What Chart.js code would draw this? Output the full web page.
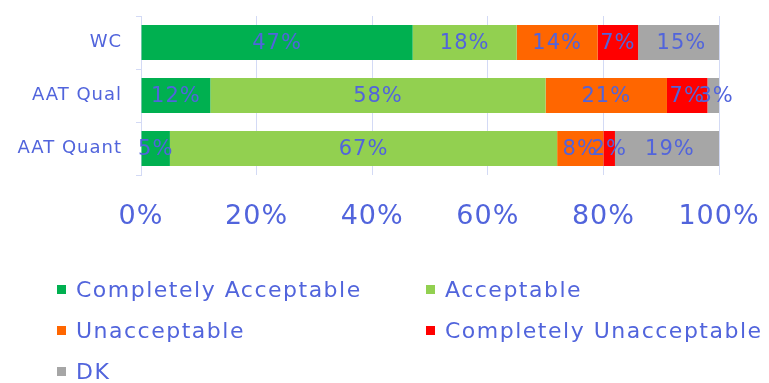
<!DOCTYPE html>
<html>
<head>
<meta charset="utf-8">
<script src="https://cdn.jsdelivr.net/npm/chart.js@4"></script>
<style>
  html, body { margin: 0; padding: 0; background: #fff; }
  #wrap { position: relative; width: 769px; height: 383px; }
  #legend {
    position: absolute; left: 57px; top: 274px; width: 712px;
    display: grid; grid-template-columns: 369px 343px; row-gap: 10px;
    font-family: "DejaVu Sans", sans-serif; font-size: 22px; letter-spacing: 1.5px; color: #5164dc;
  }
  #legend .item { display: flex; align-items: center; height: 31px; white-space: nowrap; }
  #legend .box { width: 9px; height: 9px; margin-right: 10px; flex: none; }
</style>
</head>
<body>
<div id="wrap">
  <canvas id="acceptChart" width="769" height="383"></canvas>
  <div id="legend"></div>
</div>
<script>
const categorias = ['WC', 'AAT Qual', 'AAT Quant'];
const series = ['Completely Acceptable', 'Acceptable', 'Unacceptable', 'Completely Unacceptable', 'DK'];
const colores = ['#00b050', '#92d050', '#ff6600', '#ff0000', '#a6a6a6'];

// porcentaje por categoría (WC, AAT Qual, AAT Quant)
const completelyAcceptable = [47, 12, 5];
const acceptable = [18, 58, 67];
const unacceptable = [14, 21, 8];
const completelyUnacceptable = [7, 7, 2];
const dk = [15, 3, 19];

const ticksX = [0, 20, 40, 60, 80, 100];

const valores = [completelyAcceptable, acceptable, unacceptable, completelyUnacceptable, dk];
const colorTexto = '#5164dc';
const fuente = '"DejaVu Sans", sans-serif';

// Espaciado de letras para todo el texto del canvas
const espaciado = {
    id: 'espaciado',
    beforeUpdate(chart) { chart.ctx.letterSpacing = '1px'; },
    beforeDraw(chart) { chart.ctx.letterSpacing = '1px'; }
};

// Etiquetas de porcentaje centradas en cada segmento
const etiquetasBarras = {
    id: 'etiquetasBarras',
    afterDatasetsDraw(chart) {
        const ctx = chart.ctx;
        ctx.save();
        ctx.font = '21px ' + fuente;
        ctx.fillStyle = colorTexto;
        ctx.textAlign = 'center';
        ctx.textBaseline = 'middle';
        chart.data.datasets.forEach((ds, i) => {
            const meta = chart.getDatasetMeta(i);
            meta.data.forEach((bar, j) => {
                const p = bar.getProps(['x', 'y', 'base'], true);
                ctx.fillText(ds.data[j] + '%', (p.x + p.base) / 2, p.y + 1);
            });
        });
        ctx.restore();
    }
};

// El área del gráfico la fija solo el padding del layout
const sinRelleno = scale => {
    scale.paddingLeft = 0;
    scale.paddingRight = 0;
    scale.paddingTop = 0;
    scale.paddingBottom = 0;
};

const ctx = document.getElementById('acceptChart').getContext('2d');
const chart = new Chart(ctx, {
    type: 'bar',
    data: {
        labels: categorias,
        datasets: series.map((nombre, i) => ({
            label: nombre,
            data: valores[i],
            backgroundColor: colores[i],
            borderWidth: 0,
            barPercentage: 0.66,
            categoryPercentage: 1
        }))
    },
    options: {
        indexAxis: 'y',
        responsive: false,
        animation: false,
        layout: { padding: { top: 16, right: 50, bottom: 148, left: 0 } },
        scales: {
            x: {
                stacked: true,
                min: 0,
                max: 100,
                afterBuildTicks: scale => { scale.ticks = ticksX.map(v => ({ value: v })); },
                afterFit: scale => { scale.height = 60; sinRelleno(scale); },
                grid: { color: '#d3daf5', lineWidth: 1, drawTicks: false },
                border: { display: false },
                ticks: {
                    padding: 26,
                    color: colorTexto,
                    font: { family: fuente, size: 27 },
                    callback: v => v + '%'
                }
            },
            y: {
                stacked: true,
                afterFit: scale => { scale.width = 141; sinRelleno(scale); },
                grid: { drawOnChartArea: false, color: '#d3daf5', tickLength: 5, offset: true },
                border: { color: '#d3daf5' },
                ticks: {
                    padding: 14,
                    color: colorTexto,
                    font: { family: fuente, size: 18 }
                }
            }
        },
        plugins: {
            legend: { display: false },
            tooltip: { enabled: false }
        }
    },
    plugins: [espaciado, etiquetasBarras]
});

// Leyenda en dos columnas
const leyenda = document.getElementById('legend');
chart.data.datasets.forEach(ds => {
    const item = document.createElement('div');
    item.className = 'item';
    const caja = document.createElement('span');
    caja.className = 'box';
    caja.style.background = ds.backgroundColor;
    const texto = document.createElement('span');
    texto.textContent = ds.label;
    item.appendChild(caja);
    item.appendChild(texto);
    leyenda.appendChild(item);
});
</script>
</body>
</html>
